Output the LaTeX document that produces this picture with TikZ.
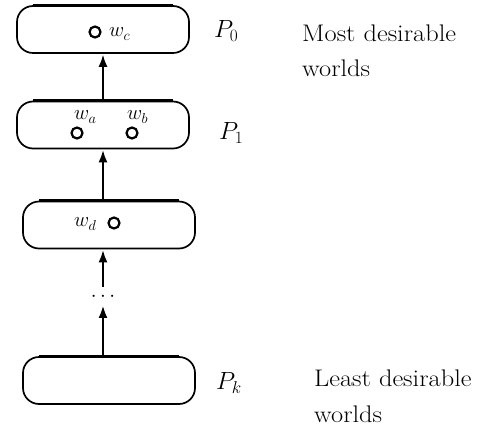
\documentclass[tikz,border=0pt]{standalone}
\usetikzlibrary{arrows.meta}
\begin{document}
\begin{tikzpicture}[x=1pt,y=-1pt,
  level/.style={draw, line width=1.7pt, rounded corners=16pt, minimum width=172pt,
    minimum height=47pt, inner sep=0pt},
  world/.style={draw, circle, line width=2.2pt, minimum size=11pt, inner sep=0pt},
  up/.style={line width=2.6pt, -{Latex[length=13pt,width=9pt]}},
  lbl/.style={font=\fontsize{22}{26}\selectfont, inner sep=0pt, anchor=base west},
  pname/.style={font=\fontsize{24}{28}\selectfont, inner sep=0pt, anchor=base west},
  note/.style={font=\fontsize{24}{30}\selectfont, inner sep=0pt, anchor=base west}]
\useasboundingbox (0,0) rectangle (488,430);

% the preference levels, most desirable at the top
\node[level] (p0) at (103,29.5) {};
\node[level] (p1) at (103,125) {};
\node[level] (pd) at (109,225) {};
\node[level] (pk) at (109,380.5) {};
% heavier top rules on the straight part of each level
\foreach \b in {p0,p1,pd,pk}
  \draw[line width=2.6pt] ([xshift=17pt]\b.north west) -- ([xshift=-17pt]\b.north east);

% worlds inside the levels
\node[world] (wc) at (95,32) {};
\node[lbl] (wcl) at (109,37) {$w_c$};
\node[world] (wa) at (77,133) {};
\node[lbl] (wal) at (74,120) {$w_a$};
\node[world] (wb) at (132,133) {};
\node[lbl] (wbl) at (127,120) {$w_b$};
\node[lbl] (wdl) at (74,227) {$w_d$};
\node[world] (wd) at (114,223) {};

% ordering arrows
\node[font=\fontsize{22}{26}\selectfont, inner sep=0pt] (dots) at (103,297) {$\cdots$};
\coordinate (dtop) at (103,287);
\coordinate (dbot) at (103,305);
\draw[up] (p1.north -| 103,0) -- (p0.south -| 103,0);
\draw[up] (pd.north -| 103,0) -- (p1.south -| 103,0);
\draw[up] (dtop) -- (pd.south -| 103,0);
\draw[up] (pk.north -| 103,0) -- (dbot);

% level names
\node[pname] (n0) at (214,38) {$P_0$};
\node[pname] (n1) at (219,140) {$P_1$};
\node[pname] (nk) at (216,390) {$P_k$};

% side notes
\node[note] (most) at (302,42) {\scalebox{1.1}[1]{Most desirable}};
\node[note] (most2) at (302,77) {\scalebox{1.1}[1]{worlds}};
\node[note] (least) at (314,387) {\scalebox{1.1}[1]{Least desirable}};
\node[note] (least2) at (314,423) {\scalebox{1.1}[1]{worlds}};
\end{tikzpicture}
\end{document}
